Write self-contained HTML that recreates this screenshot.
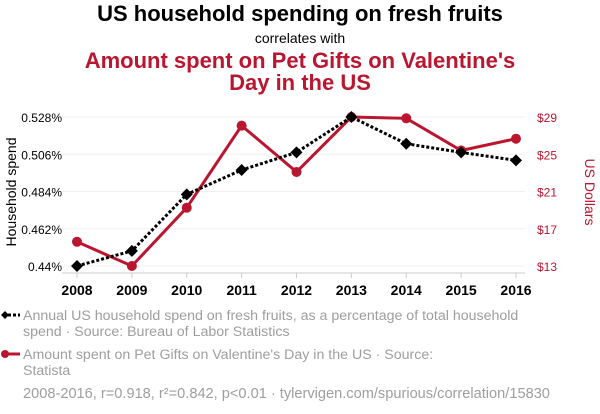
<!DOCTYPE html>
<html><head><meta charset="utf-8"><style>
body{margin:0;background:#fff;width:600px;height:414px;overflow:hidden;font-family:"Liberation Sans",sans-serif;}
svg{display:block}
</style></head><body>
<svg width="600" height="414" xmlns="http://www.w3.org/2000/svg">
<text x="300" y="21" text-anchor="middle" font-size="22" font-weight="bold" fill="#000">US household spending on fresh fruits</text>
<text x="300" y="43" text-anchor="middle" font-size="14" fill="#000">correlates with</text>
<text x="300" y="68" text-anchor="middle" font-size="22" font-weight="bold" fill="#bb1630">Amount spent on Pet Gifts on Valentine's</text>
<text x="300" y="90" text-anchor="middle" font-size="22" font-weight="bold" fill="#bb1630">Day in the US</text>
<g id="grid"></g><g id="axes"></g><g id="series"></g>
<text transform="translate(16,192) rotate(-90)" text-anchor="middle" font-size="14" fill="#000">Household spend</text>
<text transform="translate(585,192) rotate(90)" text-anchor="middle" font-size="14" fill="#bb1630">US Dollars</text>
<g>
<line x1="3" y1="315" x2="20" y2="315" stroke="#000" stroke-width="3" stroke-dasharray="3,2"/>
<path d="M5 311 L9 315 L5 319 L1 315Z" fill="#000"/>
<text x="23" y="320" font-size="14.2" fill="#9e9e9e">Annual US household spend on fresh fruits, as a percentage of total household</text>
<text x="23" y="336" font-size="14.2" fill="#9e9e9e">spend · Source: Bureau of Labor Statistics</text>
</g>
<g>
<line x1="3" y1="354" x2="20" y2="354" stroke="#bb1630" stroke-width="3"/>
<circle cx="5" cy="354" r="4" fill="#bb1630"/>
<text x="23" y="359" font-size="14.2" fill="#9e9e9e">Amount spent on Pet Gifts on Valentine's Day in the US · Source:</text>
<text x="23" y="375" font-size="14.2" fill="#9e9e9e">Statista</text>
</g>
<text x="23" y="398" font-size="14.6" fill="#9e9e9e">2008-2016, r=0.918, r²=0.842, p&lt;0.01 · tylervigen.com/spurious/correlation/15830</text>
</svg>
<script>
const years=[2008,2009,2010,2011,2012,2013,2014,2015,2016];
const fruitSpend=[0.44,0.4489,0.4823,0.4967,0.5071,0.528,0.5122,0.5071,0.5024];
const petGifts=[15.6,13,19.26,28.07,23.1,29,28.86,25.4,26.67];
const leftTicks=[0.44,0.462,0.484,0.506,0.528];
const rightTicks=[13,17,21,25,29];
const NS="http://www.w3.org/2000/svg";
const xS=y=>77+(y-2008)*(516-77)/8;
const yL=v=>266-(v-0.44)*(149/0.088);
const yR=v=>266-(v-13)*(149/16);
function mk(t,a,p){const e=document.createElementNS(NS,t);for(const k in a)e.setAttribute(k,a[k]);p.appendChild(e);return e;}
const grid=document.getElementById('grid'),axes=document.getElementById('axes'),ser=document.getElementById('series');
leftTicks.forEach((v,i)=>{
 const g=mk('line',{x1:62,x2:525,y1:yL(v),y2:yL(v),stroke:'#f0f0f0','stroke-width':1},grid);
 
 
 const t=mk('text',{x:62,y:yL(v)+5,'text-anchor':'end','font-size':12,fill:'#000'},axes);
 t.textContent=(+v.toFixed(3))+'%';
 
 
});
rightTicks.forEach(v=>{
 const t=mk('text',{x:537,y:yR(v)+5,'font-size':12,fill:'#bb1630'},axes);
 t.textContent='$'+v;
 
 
});
const ax=mk('line',{x1:62,x2:525,y1:273,y2:273,stroke:'#ccc'},axes);


years.forEach(y=>{
 mk('line',{x1:xS(y),x2:xS(y),y1:273,y2:278,stroke:'#ccc'},axes);
 const t=mk('text',{x:xS(y),y:295,'text-anchor':'middle','font-size':14,'font-weight':'bold',fill:'#000'},axes);
 t.textContent=y;
 
 
});
const rl=mk('polyline',{points:years.map((y,i)=>xS(y)+','+yR(petGifts[i])).join(' '),fill:'none',stroke:'#bb1630','stroke-width':3},ser);


years.forEach((y,i)=>{
 const c=mk('circle',{cx:xS(y),cy:yR(petGifts[i]),r:5,fill:'#bb1630'},ser);
 
 
});
const bl=mk('polyline',{points:years.map((y,i)=>xS(y)+','+yL(fruitSpend[i])).join(' '),fill:'none',stroke:'#000','stroke-width':3,'stroke-dasharray':'3,2'},ser);


years.forEach((y,i)=>{
 const x=xS(y),yy=yL(fruitSpend[i]);
 const p=mk('path',{d:`M${x} ${yy-6}L${x+6} ${yy}L${x} ${yy+6}L${x-6} ${yy}Z`,fill:'#000'},ser);
 
 
});
</script>
</body></html>
